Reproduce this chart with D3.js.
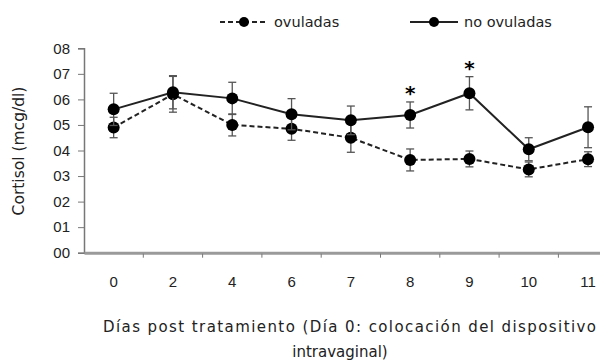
<!DOCTYPE html>
<html>
<head>
<meta charset="utf-8">
<script src="https://cdn.jsdelivr.net/npm/d3@7"></script>
<style>
  body { margin: 0; background: #fff; }
  svg { display: block; font-family: "DejaVu Sans", sans-serif; }
</style>
</head>
<body>
<svg width="600" height="362"></svg>
<script>
// dias post tratamiento
var days = ["0", "2", "4", "6", "7", "8", "9", "10", "11"];
// cortisol means and errors
var ovuladas = [0.49, 0.62, 0.50, 0.485, 0.45, 0.363, 0.367, 0.326, 0.366];
var ovuladasErr = [0.04, 0.07, 0.043, 0.045, 0.057, 0.043, 0.031, 0.029, 0.029];
var noOvuladas = [0.561, 0.628, 0.604, 0.542, 0.518, 0.539, 0.624, 0.405, 0.491];
var noOvuladasErr = [0.063, 0.065, 0.063, 0.061, 0.056, 0.051, 0.065, 0.045, 0.08];
var signif = ["8", "9"]; // asterisks
var yTicks = [0, 0.1, 0.2, 0.3, 0.4, 0.5, 0.6, 0.7, 0.8];
var yTickLabels = ["00", "01", "02", "03", "04", "05", "06", "07", "08"];

var svg = d3.select("svg");

var x = d3.scaleBand().domain(days).range([84, 617.7]);
var y = d3.scaleLinear().domain([0, 0.8]).range([252.7, 48.3]);

// y axis
var yAxis = d3.axisLeft(y).tickValues(yTicks)
  .tickFormat(function(d, i){ return yTickLabels[i]; })
  .tickSize(6).tickPadding(8);
var gy = svg.append("g").attr("transform", "translate(84,0)").call(yAxis);
gy.select(".domain").attr("stroke", "#777").attr("stroke-width", 1.5);
gy.selectAll(".tick line").attr("stroke", "#777");
gy.selectAll("text").attr("font-size", 15).attr("fill", "#222");

// x axis
var xAxis = d3.axisBottom(x).tickSize(0).tickPadding(24);
var gx = svg.append("g").attr("transform", "translate(0,252.7)").call(xAxis);
gx.select(".domain").attr("stroke", "#9a9a9a").attr("stroke-width", 3);
gx.selectAll("text").attr("font-size", 15).attr("fill", "#222");
// small ticks between categories
gx.selectAll(".sep").data(days.slice(1)).enter().append("line")
  .attr("x1", function(d){ return x(d); })
  .attr("x2", function(d){ return x(d); })
  .attr("y1", 1).attr("y2", 5)
  .attr("stroke", "#777");

var cx = function(d){ return x(d) + x.bandwidth() / 2; };

var drawSeries = function(vals, errs, dash){
  var pts = days.map(function(d, i){ return {day: d, v: vals[i], e: errs[i]}; });
  var line = d3.line().x(function(p){ return cx(p.day); }).y(function(p){ return y(p.v); });
  svg.append("path").datum(pts)
    .attr("d", line)
    .attr("fill", "none")
    .attr("stroke", "#222")
    .attr("stroke-width", 2)
    .attr("stroke-dasharray", dash);
  var eb = svg.append("g").attr("stroke", "#555").attr("stroke-width", 1.3);
  pts.forEach(function(p){
    var px = cx(p.day);
    eb.append("line").attr("x1", px).attr("x2", px)
      .attr("y1", y(p.v + p.e)).attr("y2", y(p.v - p.e));
    eb.append("line").attr("x1", px - 4).attr("x2", px + 4)
      .attr("y1", y(p.v + p.e)).attr("y2", y(p.v + p.e));
    eb.append("line").attr("x1", px - 4).attr("x2", px + 4)
      .attr("y1", y(p.v - p.e)).attr("y2", y(p.v - p.e));
  });
  svg.append("g").selectAll("circle").data(pts).enter().append("circle")
    .attr("cx", function(p){ return cx(p.day); })
    .attr("cy", function(p){ return y(p.v); })
    .attr("r", 6)
    .attr("fill", "#000");
};

drawSeries(ovuladas, ovuladasErr, "5,3");
drawSeries(noOvuladas, noOvuladasErr, null);

// asterisks
signif.forEach(function(d){
  var i = days.indexOf(d);
  svg.append("text")
    .attr("x", cx(d))
    .attr("y", y(noOvuladas[i] + noOvuladasErr[i]) - 2)
    .attr("text-anchor", "middle")
    .attr("font-size", 20)
    .attr("font-weight", "bold")
    .text("*");
});

// legend
var legend = [
  {name: "ovuladas", x: 220, dash: "5,3"},
  {name: "no ovuladas", x: 410, dash: null}
];
legend.forEach(function(l){
  svg.append("line").attr("x1", l.x).attr("x2", l.x + 48)
    .attr("y1", 22).attr("y2", 22)
    .attr("stroke", "#222").attr("stroke-width", 2)
    .attr("stroke-dasharray", l.dash);
  svg.append("circle").attr("cx", l.x + 24).attr("cy", 22).attr("r", 5).attr("fill", "#000");
  svg.append("text").attr("x", l.x + 54).attr("y", 27)
    .attr("font-size", 14.5).attr("fill", "#222").text(l.name);
});

// axis titles
svg.append("text")
  .attr("transform", "translate(24,151) rotate(-90)")
  .attr("text-anchor", "middle")
  .attr("font-size", 15.5).attr("fill", "#222")
  .text("Cortisol (mcg/dl)");
svg.append("text").attr("x", 103).attr("y", 332)
  .attr("font-size", 15).attr("fill", "#222")
  .attr("textLength", 493).attr("lengthAdjust", "spacing")
  .text("Días post tratamiento (Día 0: colocación del dispositivo");
svg.append("text").attr("x", 340).attr("y", 357)
  .attr("text-anchor", "middle")
  .attr("font-size", 15).attr("fill", "#222")
  .text("intravaginal)");
</script>
</body>
</html>
